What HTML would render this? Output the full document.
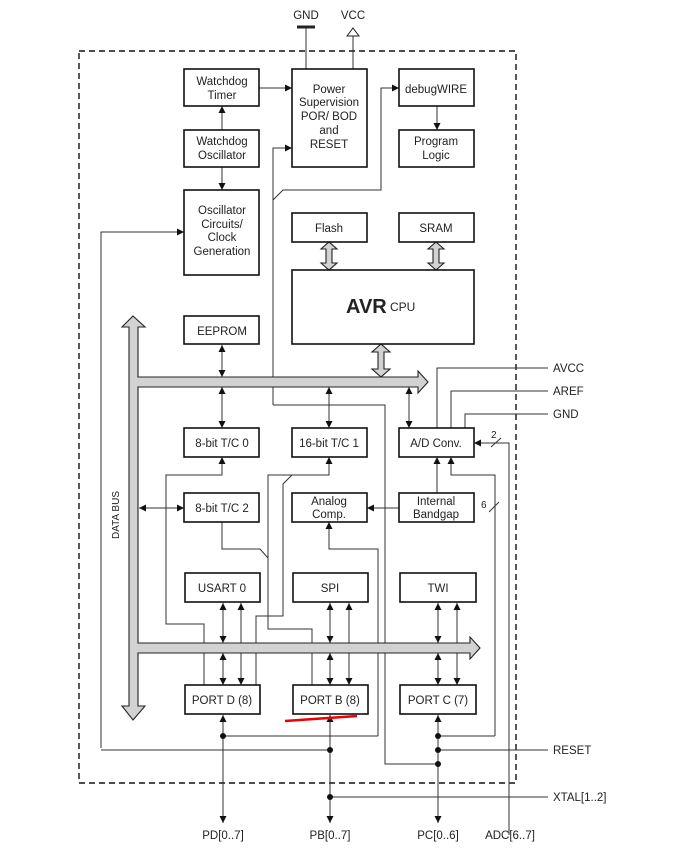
<!DOCTYPE html>
<html><head><meta charset="utf-8"><style>
body{margin:0;background:#fff}
svg{display:block}
text{font-family:"Liberation Sans",sans-serif;font-size:11.5px;fill:#222}
.b{fill:#fff;stroke:#111;stroke-width:1.6}
.l{fill:none;stroke:#333;stroke-width:1}
.bus{fill:#d2d2d2;stroke:#222;stroke-width:1.1}
</style></head><body>
<svg width="683" height="855" viewBox="0 0 683 855">
<defs>
<marker id="a" viewBox="0 0 10 10" refX="10" refY="5" markerWidth="7" markerHeight="9" orient="auto-start-reverse" markerUnits="userSpaceOnUse"><path d="M0,0L10,5L0,10z" fill="#111"/></marker>
</defs>
<rect x="79" y="51" width="437" height="732" fill="none" stroke="#111" stroke-width="1.4" stroke-dasharray="6,4"/>

<line class="l" x1="306" y1="27" x2="306" y2="69"/>
<line x1="297" y1="27" x2="315" y2="27" stroke="#222" stroke-width="3"/>
<line class="l" x1="353" y1="36" x2="353" y2="69"/>
<path d="M347,36L353,28L359,36z" fill="#fff" stroke="#222"/>
<text x="306" y="19" text-anchor="middle">GND</text>
<text x="353" y="19" text-anchor="middle">VCC</text>

<g class="l">
<path d="M259,88H292" marker-end="url(#a)"/>
<path d="M222,130V106" marker-end="url(#a)"/>
<path d="M222,167V190" marker-end="url(#a)"/>
<path d="M437,106V130" marker-end="url(#a)"/>
<path d="M101,748V232H184" marker-end="url(#a)"/>
<path d="M273,405V200L283,190H381V88H399" marker-end="url(#a)"/>
<path d="M273,200V148H292" marker-end="url(#a)"/>
<path d="M273,405H385V764H436"/>
<path d="M222,345V377" marker-start="url(#a)" marker-end="url(#a)"/>
<path d="M222,387V428" marker-start="url(#a)" marker-end="url(#a)"/>
<path d="M329,387V428" marker-start="url(#a)" marker-end="url(#a)"/>
<path d="M409,387V428" marker-start="url(#a)" marker-end="url(#a)"/>
<path d="M437,428V368H548"/>
<path d="M451,428V391H548"/>
<path d="M465,428V414H548"/>
<path d="M509,835V443H474" marker-end="url(#a)"/>
<path d="M491,447L501,438"/>
<path d="M139,508H184" marker-start="url(#a)" marker-end="url(#a)"/>
<path d="M399,508H367" marker-end="url(#a)"/>
<path d="M437,493V457" marker-end="url(#a)"/>
<path d="M495,736V475H451V457" marker-end="url(#a)"/>
<path d="M489,512L499,502"/>
<path d="M204,685V624H166V475H222V457" marker-end="url(#a)"/>
<path d="M312,685V629H268V475H329V457" marker-end="url(#a)"/>
<path d="M256,685V616H283V484L292,475"/>
<path d="M222,522V549H260L268,558"/>
<path d="M378,736V549H329V522" marker-end="url(#a)"/>
<path d="M223,603V643" marker-start="url(#a)" marker-end="url(#a)"/>
<path d="M223,653V685" marker-start="url(#a)" marker-end="url(#a)"/>
<path d="M241,603V685" marker-start="url(#a)" marker-end="url(#a)"/>
<path d="M330,603V643" marker-start="url(#a)" marker-end="url(#a)"/>
<path d="M330,653V685" marker-start="url(#a)" marker-end="url(#a)"/>
<path d="M349,603V685" marker-start="url(#a)" marker-end="url(#a)"/>
<path d="M438,603V643" marker-start="url(#a)" marker-end="url(#a)"/>
<path d="M438,653V685" marker-start="url(#a)" marker-end="url(#a)"/>
<path d="M457,603V685" marker-start="url(#a)" marker-end="url(#a)"/>
<path d="M223,715V823" marker-start="url(#a)" marker-end="url(#a)"/>
<path d="M330,715V823" marker-start="url(#a)" marker-end="url(#a)"/>
<path d="M438,715V823" marker-start="url(#a)" marker-end="url(#a)"/>
<path d="M223,736H378"/>
<path d="M438,736H495"/>
<path d="M101,750H330"/>
<path d="M438,750H548"/>
<path d="M330,797H548"/>
</g>
<g fill="#111">
<circle cx="223" cy="736" r="3"/><circle cx="330" cy="750" r="3"/>
<circle cx="438" cy="736" r="3"/><circle cx="438" cy="750" r="3"/><circle cx="438" cy="764" r="3"/>
<circle cx="330" cy="797" r="3"/>
</g>

<path class="bus" d="M129,706V327L122,327L133,316L145,327L138,327V377H418V371L428,382L418,393V387H138V643H470V637L480,648L470,659V653H138V706H145L133,720L122,706z"/>
<path class="bus" d="M326,249H321L329,242L337,249H332V263H337L329,270L321,263H326z"/>
<path class="bus" d="M433,249H428L436,242L444,249H439V263H444L436,270L428,263H433z"/>
<path class="bus" d="M378,352H372L381,344L390,352H384V369H390L381,377L372,369H378z"/>

<g>
<rect class="b" x="184" y="69" width="75" height="37"/>
<rect class="b" x="292" y="69" width="75" height="98"/>
<rect class="b" x="399" y="69" width="75" height="37"/>
<rect class="b" x="184" y="130" width="75" height="37"/>
<rect class="b" x="399" y="130" width="75" height="37"/>
<rect class="b" x="184" y="190" width="75" height="85"/>
<rect class="b" x="292" y="213" width="75" height="29"/>
<rect class="b" x="399" y="213" width="75" height="29"/>
<rect class="b" x="292" y="270" width="182" height="74"/>
<rect class="b" x="184" y="316" width="75" height="28"/>
<rect class="b" x="184" y="428" width="75" height="29"/>
<rect class="b" x="292" y="428" width="75" height="29"/>
<rect class="b" x="399" y="428" width="75" height="29"/>
<rect class="b" x="184" y="493" width="75" height="29"/>
<rect class="b" x="292" y="493" width="75" height="29"/>
<rect class="b" x="399" y="493" width="75" height="29"/>
<rect class="b" x="185" y="573" width="75" height="29"/>
<rect class="b" x="293" y="573" width="75" height="29"/>
<rect class="b" x="400" y="573" width="76" height="29"/>
<rect class="b" x="185" y="685" width="75" height="29"/>
<rect class="b" x="293" y="685" width="75" height="29"/>
<rect class="b" x="400" y="685" width="76" height="29"/>
</g>
<g text-anchor="middle">
<text x="222" y="85">Watchdog</text><text x="222" y="99">Timer</text>
<text x="329" y="93">Power</text><text x="329" y="106">Supervision</text><text x="329" y="120">POR/ BOD</text><text x="329" y="134">and</text><text x="329" y="148">RESET</text>
<text x="436" y="93">debugWIRE</text>
<text x="222" y="145">Watchdog</text><text x="222" y="159">Oscillator</text>
<text x="436" y="145">Program</text><text x="436" y="159">Logic</text>
<text x="222" y="214">Oscillator</text><text x="222" y="228">Circuits/</text><text x="222" y="241">Clock</text><text x="222" y="255">Generation</text>
<text x="329" y="232">Flash</text><text x="436" y="232">SRAM</text>
<text x="222" y="335">EEPROM</text>
<text x="222" y="447">8-bit T/C 0</text><text x="329" y="447">16-bit T/C 1</text><text x="436" y="447">A/D Conv.</text>
<text x="222" y="512">8-bit T/C 2</text>
<text x="329" y="505">Analog</text><text x="329" y="518">Comp.</text>
<text x="436" y="505">Internal</text><text x="436" y="518">Bandgap</text>
<text x="222" y="592">USART 0</text><text x="330" y="592">SPI</text><text x="438" y="592">TWI</text>
<text x="222" y="704">PORT D (8)</text><text x="330" y="704">PORT B (8)</text><text x="438" y="704">PORT C (7)</text>
<text x="223" y="839">PD[0..7]</text><text x="330" y="839">PB[0..7]</text><text x="438" y="839">PC[0..6]</text><text x="510" y="839">ADC[6..7]</text>
</g>
<text x="346" y="313" style="font-size:20px;font-weight:bold">AVR</text>
<text x="390" y="311" style="font-size:12px">CPU</text>
<text x="553" y="372">AVCC</text><text x="553" y="395">AREF</text><text x="553" y="418">GND</text>
<text x="553" y="754">RESET</text><text x="553" y="801">XTAL[1..2]</text>
<text x="491" y="438" style="font-size:10px">2</text>
<text x="481" y="508" style="font-size:10px">6</text>
<text transform="translate(119,515) rotate(-90)" text-anchor="middle" style="font-size:10px">DATA BUS</text>
<line x1="285" y1="721" x2="357" y2="716" stroke="#e00" stroke-width="2.5"/>
</svg>
</body></html>
